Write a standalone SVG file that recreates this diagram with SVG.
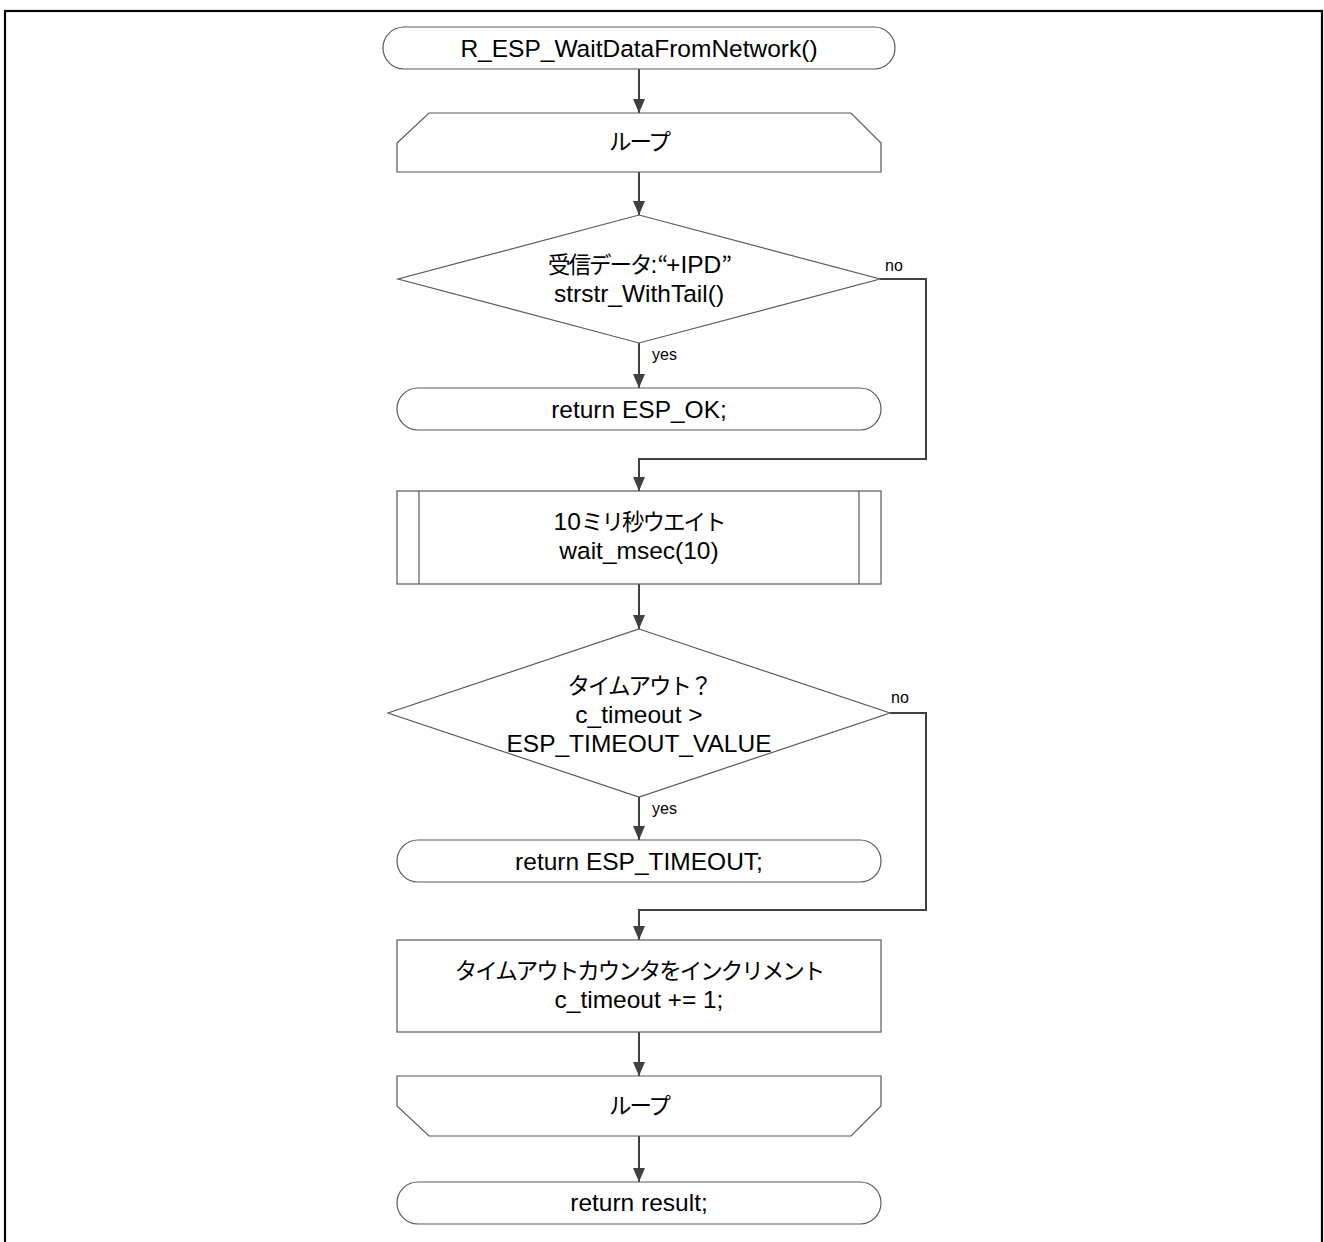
<svg xmlns="http://www.w3.org/2000/svg" width="1324" height="1242" viewBox="0 0 1324 1242">
<style>
.frame{fill:none;stroke:#000;stroke-width:2.2}
.box{fill:#fff;stroke:#595959;stroke-width:1.2}
.conn{fill:none;stroke:#404040;stroke-width:2}
.t{font-family:"Liberation Sans","Noto Sans CJK JP",sans-serif;font-size:24.5px;fill:#000;text-anchor:middle}
.j{font-family:"Noto Sans CJK JP",sans-serif;font-size:22.5px;letter-spacing:-2px}
.l{font-family:"Liberation Sans",sans-serif;font-size:16px;fill:#000}
</style>
<defs>
<marker id="arr" markerUnits="userSpaceOnUse" markerWidth="14" markerHeight="12" refX="14" refY="6" orient="auto">
<path d="M0,0 L14,6 L0,12 z" fill="#404040"/>
</marker>
</defs>
<rect class="frame" x="5" y="11" width="1317" height="1250"/>
<g id="connectors">
<line class="conn" x1="639" y1="69" x2="639" y2="113" marker-end="url(#arr)"/>
<line class="conn" x1="639" y1="172" x2="639" y2="215" marker-end="url(#arr)"/>
<line class="conn" x1="639" y1="343" x2="639" y2="388" marker-end="url(#arr)"/>
<polyline class="conn" points="880,279 926,279 926,459 639,459 639,491" marker-end="url(#arr)"/>
<line class="conn" x1="639" y1="584" x2="639" y2="629" marker-end="url(#arr)"/>
<line class="conn" x1="639" y1="797" x2="639" y2="840" marker-end="url(#arr)"/>
<polyline class="conn" points="890,713 926,713 926,910 639,910 639,940" marker-end="url(#arr)"/>
<line class="conn" x1="639" y1="1032" x2="639" y2="1076" marker-end="url(#arr)"/>
<line class="conn" x1="639" y1="1136" x2="639" y2="1182" marker-end="url(#arr)"/>
<text class="l" x="885" y="271">no</text>
<text class="l" x="652" y="360">yes</text>
<text class="l" x="891" y="703">no</text>
<text class="l" x="652" y="814">yes</text>
</g>
<g id="start">
<rect class="box" x="383" y="27" width="512" height="42" rx="21"/>
<text class="t" x="639" y="57">R_ESP_WaitDataFromNetwork()</text>
</g>
<g id="loop-start">
<path class="box" d="M429,113 L851,113 L881,143 L881,172 L397,172 L397,143 Z"/>
<text class="t" x="639" y="150"><tspan class="j">ループ</tspan></text>
</g>
<g id="check-ipd">
<path class="box" d="M639,215 L880,279 L639,343 L398,279 Z"/>
<text class="t" x="639" y="273"><tspan class="j">受信データ</tspan>:<tspan class="j">“</tspan>+IPD<tspan class="j">”</tspan></text>
<text class="t" x="639" y="302">strstr_WithTail()</text>
</g>
<g id="return-ok">
<rect class="box" x="397" y="388" width="484" height="42" rx="21"/>
<text class="t" x="639" y="418">return ESP_OK;</text>
</g>
<g id="wait">
<rect class="box" x="397" y="491" width="484" height="93"/>
<line class="box" x1="419" y1="491" x2="419" y2="584"/>
<line class="box" x1="859" y1="491" x2="859" y2="584"/>
<text class="t" x="639" y="530">10<tspan class="j">ミリ秒ウエイト</tspan></text>
<text class="t" x="639" y="559">wait_msec(10)</text>
</g>
<g id="check-timeout">
<path class="box" d="M639,629 L890,713 L639,797 L388,713 Z"/>
<text class="t" x="639" y="694"><tspan class="j">タイムアウト？</tspan></text>
<text class="t" x="639" y="723">c_timeout &gt;</text>
<text class="t" x="639" y="752">ESP_TIMEOUT_VALUE</text>
</g>
<g id="return-timeout">
<rect class="box" x="397" y="840" width="484" height="42" rx="21"/>
<text class="t" x="639" y="870">return ESP_TIMEOUT;</text>
</g>
<g id="increment">
<rect class="box" x="397" y="940" width="484" height="92"/>
<text class="t" x="639" y="979"><tspan class="j">タイムアウトカウンタをインクリメント</tspan></text>
<text class="t" x="639" y="1008">c_timeout += 1;</text>
</g>
<g id="loop-end">
<path class="box" d="M397,1076 L881,1076 L881,1106 L851,1136 L429,1136 L397,1106 Z"/>
<text class="t" x="639" y="1114"><tspan class="j">ループ</tspan></text>
</g>
<g id="return-result">
<rect class="box" x="397" y="1182" width="484" height="42" rx="21"/>
<text class="t" x="639" y="1211">return result;</text>
</g>
</svg>
